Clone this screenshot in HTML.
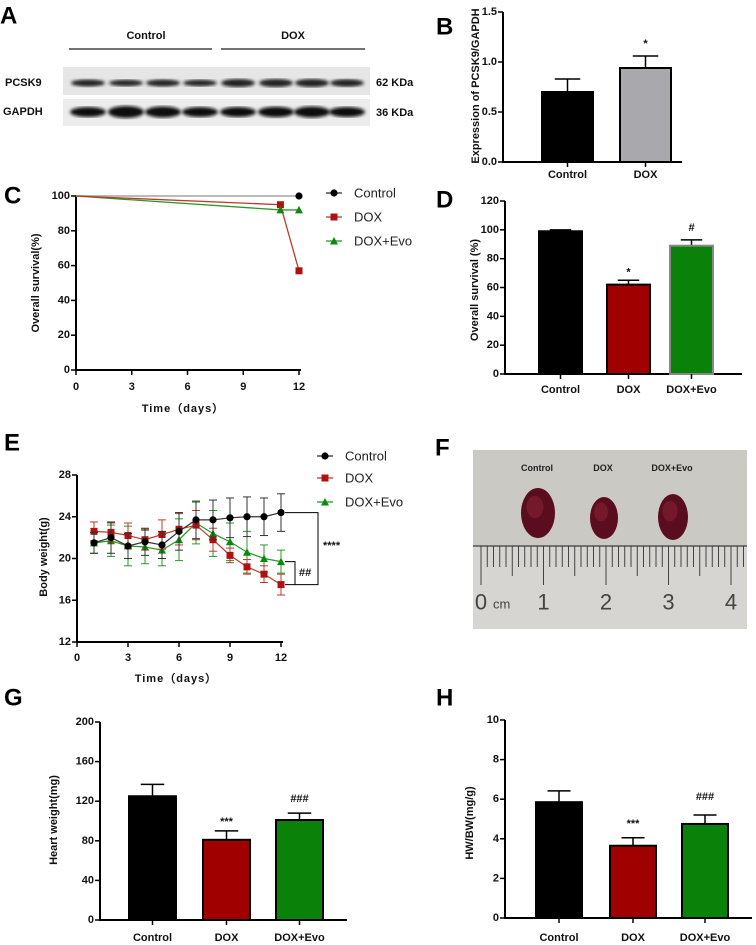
<!DOCTYPE html>
<html><head><meta charset="utf-8">
<style>
html,body{margin:0;padding:0;background:#fff;}
svg{display:block;font-family:"Liberation Sans",Arial,sans-serif;}
.t{font-weight:bold;font-size:11px;fill:#111;}
.lab{font-weight:bold;font-size:24px;fill:#000;}
</style></head>
<body>
<svg id="fig" width="756" height="945" viewBox="0 0 756 945" xmlns="http://www.w3.org/2000/svg"></svg>
<script>
// ---- data ----
const bCats=["Control","DOX"];
const bVals=[0.70,0.94];
const bErrs=[0.13,0.12];
const dCats=["Control","DOX","DOX+Evo"];
const dVals=[99,62,89];
const dErrs=[1,3,4];
const gVals=[125,81,101];
const gErrs=[12,9,7];
const hVals=[5.85,3.65,4.75];
const hErrs=[0.57,0.40,0.45];
const cDays=[0,11,12];
const cControl=[100,100,100];
const cDox=[100,95,57];
const cEvo=[100,92,92];
const eDays=[1,2,3,4,5,6,7,8,9,10,11,12];
const eControl=[21.5,22.0,21.2,21.6,21.3,22.6,23.7,23.7,23.9,24.0,24.0,24.4];
const eControlErr=[1.0,1.5,1.2,1.3,1.3,1.8,1.8,1.9,1.9,1.9,1.8,1.8];
const eDox=[22.6,22.5,22.2,21.8,22.3,22.8,23.2,21.8,20.3,19.2,18.5,17.5];
const eDoxErr=[0.9,0.9,1.2,1.0,1.4,1.5,1.4,1.1,0.7,0.7,0.8,1.0];
const eEvo=[21.5,21.7,21.2,21.1,20.8,21.8,23.4,22.4,21.6,20.6,20.0,19.7];
const eEvoErr=[1.0,1.5,1.9,1.6,1.5,2.0,2.0,2.2,1.8,2.0,1.3,1.1];
const xTicks=[0,3,6,9,12];

const NS="http://www.w3.org/2000/svg";
const svg=document.getElementById('fig');
function mk(tag,at,parent){const e=document.createElementNS(NS,tag);for(const k in at)e.setAttribute(k,at[k]);(parent||svg).appendChild(e);return e;}
function txt(x,y,s,cls,anchor,extra){const e=mk('text',Object.assign({x:x,y:y,'class':cls||'t','text-anchor':anchor||'middle','dominant-baseline':'central'},extra||{}));e.textContent=s;return e;}
function lin(x1,y1,x2,y2,c,w){return mk('line',{x1:x1,y1:y1,x2:x2,y2:y2,stroke:c||'#000','stroke-width':w||1.5});}

function yAxis(x,yTop,yBot,min,max,ticks,fmt,name,fs){
  const sc=v=>yBot-(v-min)/(max-min)*(yBot-yTop);
  const a=lin(x,yTop,x,yBot+1,'#000',2);
  
  
  ticks.forEach(v=>{
    lin(x-5,sc(v),x,sc(v),'#000',1.5);
    const t=txt(x-6,sc(v),fmt(v),'t','end',{'font-size':fs||11});
    
    
  });
  return sc;
}
function ytitle(x,y,s,name,size){
  const t=txt(x,y,s,'t','middle',{transform:'rotate(-90 '+x+' '+y+')','font-size':size||13});
  
  
}
function panelLabel(x,y,s){
  const t=txt(x,y,s,'lab','start');
  
  
}

function barChart(o){
  const sc=yAxis(o.ax,o.yTop,o.yBot,o.min,o.max,o.ticks,o.fmt,o.name,o.tickSize);
  const xa=lin(o.ax,o.yBot,o.xEnd,o.yBot,'#000',2);
  
  
  o.vals.forEach((v,i)=>{
    const x0=o.bx[i],w=o.bw,cx=x0+w/2;
    const top=sc(v+o.errs[i]);
    lin(cx,sc(v),cx,top,'#000',1.5);
    lin(cx-w/4,top,cx+w/4,top,'#000',1.5);
    const r=mk('rect',{x:x0,y:sc(v),width:w,height:o.yBot-sc(v),fill:o.colors[i],stroke:o.strokes[i],'stroke-width':2});
    
    
    lin(cx,o.yBot,cx,o.yBot+5,'#000',1.5);
    const t=txt(cx,o.labY,o.cats[i],'t','middle',{'font-size':o.catSize||12});
    
    
    if(o.marks&&o.marks[i]){
      const m=txt(cx,top-o.markOff[i],o.marks[i],'t','middle',{'font-size':o.markSize[i]});
      
      
    }
  });
}

// ---------- Panel A ----------
panelLabel(0,16,'A');
txt(146,36,'Control','t','middle',{'font-size':13});
txt(293,36,'DOX','t','middle',{'font-size':13});
let l=lin(69,49,212,49,'#444',1.5);


l=lin(221,49,365,49,'#444',1.5);


const blotDefs=mk('defs',{});
const flt=mk('filter',{id:'blur'},blotDefs);mk('feGaussianBlur',{stdDeviation:'1.6'},flt);
let bl=mk('rect',{x:63,y:67,width:307,height:28,fill:'#e6e6e6'});


bl=mk('rect',{x:63,y:99,width:307,height:27,fill:'#ececec'});


const laneX=[88,126,163,200,238,276,312,347];
const pTh=[5,4.5,5,4.5,6,6,6,5.5];
const gTh=[8,10,9,8,8,8.5,9,8];
laneX.forEach((x,i)=>{
  mk('ellipse',{cx:x,cy:83,rx:17,ry:pTh[i]/2+1,fill:'#222',filter:'url(#blur)'});
  mk('ellipse',{cx:x,cy:112,rx:18,ry:gTh[i]/2+1,fill:'#111',filter:'url(#blur)'});
});
txt(5,83,'PCSK9','t','start',{'font-size':13});
txt(3,112,'GAPDH','t','start',{'font-size':13});
txt(376,83,'62 KDa','t','start',{'font-size':11});
txt(376,113,'36 KDa','t','start',{'font-size':11});

// ---------- Panel B ----------
panelLabel(436,27,'B');
barChart({name:'b',ax:503,yTop:12,yBot:162,min:0,max:1.5,ticks:[0,0.5,1,1.5],fmt:v=>v.toFixed(1),tickSize:10,
  xEnd:682,vals:bVals,errs:bErrs,cats:bCats,bx:[542,620],bw:51,colors:['#000','#a9a9ad'],strokes:['#000','#000'],
  labY:175,catSize:11,marks:[null,'*'],markOff:[0,12],markSize:[0,11]});
ytitle(476,86,'Expression of PCSK9/GAPDH','b',11.5);

// ---------- Panel C ----------
panelLabel(4,196,'C');
const cx0=76,cx1=299,cyT=196,cyB=370;
const cX=d=>cx0+d/12*(cx1-cx0);
const cY=yAxis(cx0,cyT,cyB,0,100,[0,20,40,60,80,100],v=>''+v,'c');
let xa=lin(cx0,cyB,cx1+2,cyB,'#000',2);


xTicks.forEach(d=>{lin(cX(d),cyB,cX(d),cyB+5);const t=txt(cX(d),387,''+d);
  
  });
let tt=txt(183,409,'Time（days）','t','middle',{'font-size':13,'letter-spacing':'1'});


ytitle(36,283,'Overall survival(%)','c',13);
function pts(xs,ys,fx,fy){return xs.map((x,i)=>fx(x)+','+fy(ys[i])).join(' ');}
let pl=mk('polyline',{points:pts(cDays,cControl,cX,cY),fill:'none',stroke:'#bbb','stroke-width':2});


pl=mk('polyline',{points:pts(cDays,cEvo,cX,cY),fill:'none',stroke:'#2a9a2a','stroke-width':1.3});


pl=mk('polyline',{points:pts(cDays,cDox,cX,cY),fill:'none',stroke:'#c0392b','stroke-width':1.3});


function circ(x,y,g){return mk('circle',{cx:x,cy:y,r:3.6,fill:'#000'},g);}
function sq(x,y,g){return mk('rect',{x:x-3.5,y:y-3.5,width:7,height:7,fill:'#b01010'},g);}
function tri(x,y,g){return mk('polygon',{points:(x-4)+','+(y+3.5)+' '+(x+4)+','+(y+3.5)+' '+x+','+(y-4),fill:'#0a8a0a'},g);}
let mkr=circ(cX(12),cY(cControl[2]));


[1,2].forEach(i=>{
  let m=sq(cX(cDays[i]),cY(cDox[i]));
  
  
  m=tri(cX(cDays[i]),cY(cEvo[i]));
  
  
});
function legend(x,ys,name,lineCols){
  const labels=['Control','DOX','DOX+Evo'];
  const fns=[circ,sq,tri];
  ys.forEach((y,i)=>{
    const g=mk('g',{});
    
    
    mk('line',{x1:x-8,y1:y,x2:x+8,y2:y,stroke:lineCols[i],'stroke-width':1.3},g);
    fns[i](x,y,g);
    const t=mk('text',{x:x+20,y:y,'dominant-baseline':'central','font-size':13,fill:'#222'},g);
    t.textContent=labels[i];
  });
}
legend(334,[193,217,241],'c',['#333','#c0392b','#2a9a2a']);

// ---------- Panel D ----------
panelLabel(436,200,'D');
barChart({name:'d',ax:505,yTop:201,yBot:374,min:0,max:120,ticks:[0,20,40,60,80,100,120],fmt:v=>''+v,
  xEnd:742,vals:dVals,errs:dErrs,cats:dCats,bx:[539,607,670],bw:43,colors:['#000','#a00000','#0a820a'],strokes:['#000','#000','#888'],
  labY:390,catSize:12,marks:[null,'*','#'],markOff:[0,8,12],markSize:[0,11,15]});
ytitle(475,290,'Overall survival (%)','d',13);

// ---------- Panel E ----------
panelLabel(4,443,'E');
const ex0=77,ex1=281,eyT=475,eyB=642;
const eX=d=>ex0+d/12*(ex1-ex0);
const eY=yAxis(ex0,eyT,eyB,12,28,[12,16,20,24,28],v=>''+v,'e');
xa=lin(ex0,eyB,ex1+2,eyB,'#000',2);


xTicks.forEach(d=>{lin(eX(d),eyB,eX(d),eyB+5);const t=txt(eX(d),658,''+d);
  
  });
tt=txt(176,679,'Time（days）','t','middle',{'font-size':13,'letter-spacing':'1'});


ytitle(44,557,'Body weight(g)','e',13);
function series(vals,errs,col,fn,name){
  const g=mk('g',{});
  
  
  eDays.forEach((d,i)=>{
    const x=eX(d);
    mk('line',{x1:x,y1:eY(vals[i]-errs[i]),x2:x,y2:eY(vals[i]+errs[i]),stroke:col,'stroke-width':1},g);
    mk('line',{x1:x-4,y1:eY(vals[i]-errs[i]),x2:x+4,y2:eY(vals[i]-errs[i]),stroke:col,'stroke-width':1},g);
    mk('line',{x1:x-4,y1:eY(vals[i]+errs[i]),x2:x+4,y2:eY(vals[i]+errs[i]),stroke:col,'stroke-width':1},g);
  });
  mk('polyline',{points:pts(eDays,vals,eX,eY),fill:'none',stroke:col,'stroke-width':1.2},g);
  eDays.forEach((d,i)=>fn(eX(d),eY(vals[i]),g));
}
series(eEvo,eEvoErr,'#2a9a2a',tri,'e-dox-evo-series');
series(eDox,eDoxErr,'#c0392b',sq,'e-dox-series');
series(eControl,eControlErr,'#333',circ,'e-control-series');
const eL=eX(12);
let br=mk('polyline',{points:(eL+4)+','+eY(eControl[11])+' 318,'+eY(eControl[11])+' 318,'+eY(eDox[11])+' '+(eL+4)+','+eY(eDox[11]),fill:'none',stroke:'#000','stroke-width':1});


br=mk('polyline',{points:(eL+4)+','+eY(eEvo[11])+' 295,'+eY(eEvo[11])+' 295,'+eY(eDox[11]),fill:'none',stroke:'#000','stroke-width':1});


tt=txt(323,546,'****','t','start',{'font-size':10,'font-weight':'normal'});


tt=txt(299,573,'##','t','start',{'font-size':13});


legend(325,[456,478,502],'e',['#333','#c0392b','#2a9a2a']);

// ---------- Panel F ----------
panelLabel(435,448,'F');
const fg=mk('g',{});


mk('rect',{x:473,y:450,width:274,height:179,fill:'#cbc9c4'},fg);
mk('rect',{x:473,y:546,width:274,height:83,fill:'#d6d5d1'},fg);
mk('line',{x1:473,y1:546,x2:747,y2:546,stroke:'#555','stroke-width':1.5},fg);
for(let mm=-2;mm<=42;mm++){
  const x=481+mm*6.25; if(x<475||x>745)continue;
  const len=(mm%10===0)?39:(mm%5===0?30:21);
  mk('line',{x1:x,y1:546,x2:x,y2:546+len,stroke:'#333','stroke-width':0.9},fg);
}
['0','1','2','3','4'].forEach((s,i)=>{const t=mk('text',{x:481+i*62.5,y:602,'text-anchor':'middle','dominant-baseline':'central','font-size':22,fill:'#444'},fg);t.textContent=s;});
let ct=mk('text',{x:493,y:604,'dominant-baseline':'central','font-size':13,fill:'#444'},fg);ct.textContent='cm';
const hearts=[[538,513,17,25,'Control'],[604,518,14,21,'DOX'],[673,517,15,23,'DOX+Evo']];
hearts.forEach(h=>{
  const e=mk('ellipse',{cx:h[0],cy:h[1],rx:h[2],ry:h[3],fill:'#5a0d1e'},fg);
  
  
  mk('ellipse',{cx:h[0]-3,cy:h[1]-6,rx:h[2]*0.5,ry:h[3]*0.45,fill:'#74182c'},fg);
  const t=mk('text',{x:h[0]-1,y:468,'text-anchor':'middle','dominant-baseline':'central','font-size':9,'font-weight':'bold',fill:'#222'},fg);t.textContent=h[4];
});

// ---------- Panel G ----------
panelLabel(4,698,'G');
barChart({name:'g',ax:100,yTop:722,yBot:920,min:0,max:200,ticks:[0,40,80,120,160,200],fmt:v=>''+v,tickSize:12,
  xEnd:347,vals:gVals,errs:gErrs,cats:dCats,bx:[129,203,276],bw:47,colors:['#000','#a00000','#0a820a'],strokes:['#000','#000','#000'],
  labY:938,catSize:14,marks:[null,'***','###'],markOff:[0,9,14],markSize:[0,11,15]});
ytitle(54,820,'Heart weight(mg)','g',14);

// ---------- Panel H ----------
panelLabel(436,698,'H');
barChart({name:'h',ax:505,yTop:720,yBot:918,min:0,max:10,ticks:[0,2,4,6,8,10],fmt:v=>''+v,tickSize:12,
  xEnd:752,vals:hVals,errs:hErrs,cats:dCats,bx:[536,610,682],bw:46,colors:['#000','#a00000','#0a820a'],strokes:['#000','#000','#000'],
  labY:938,catSize:14,marks:[null,'***','###'],markOff:[0,14,18],markSize:[0,11,15]});
ytitle(470,823,'HW/BW(mg/g)','h',14);
</script>
</body></html>
